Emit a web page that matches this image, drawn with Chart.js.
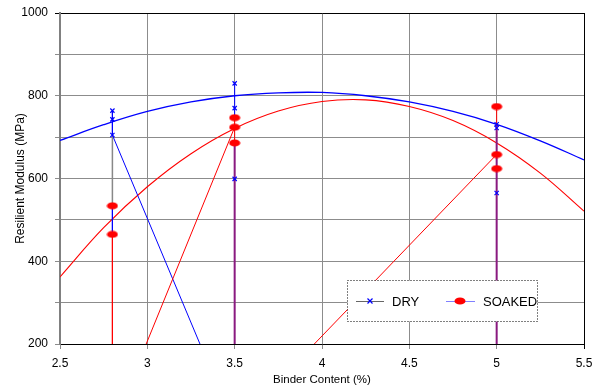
<!DOCTYPE html>
<html>
<head>
<meta charset="utf-8">
<script src="https://cdn.jsdelivr.net/npm/chart.js@4.4.1/dist/chart.umd.min.js"></script>
<style>
  html, body { margin: 0; padding: 0; background: #fff; }
  #wrap { width: 596px; height: 392px; position: relative; }
</style>
</head>
<body>
<div id="wrap"><canvas id="modulusChart"></canvas></div>
<script>
// axis ticks
const xTicks = [2.5, 3, 3.5, 4, 4.5, 5, 5.5];
const yLabels = [200, 400, 600, 800, 1000];

// measured points
const dryX = [2.8, 2.8, 2.8, 3.5, 3.5, 3.5, 5.0, 5.0, 5.0];
const dryY = [764, 743, 705, 830, 770, 599, 731, 722, 565];
const soakedX = [2.8, 2.8, 3.5, 3.5, 3.5, 5.0, 5.0, 5.0];
const soakedY = [534, 465, 747, 724, 686, 774, 658, 624];

// connecting lines (null breaks a segment, 0 drops below the axis)
const blueLineX = [2.8, 2.8, 3.5, null, 3.5, 3.5, null, 2.8, 2.8];
const blueLineY = [764, 705, 0, null, 747, 830, null, 534, 465];
const grayLineX = [2.8, 2.8];
const grayLineY = [705, 534];
const redLineX = [2.8, 2.8, 3.5, null, 3.5, 3.5, null, 3.5, 5.0, null, 5.0, 5.0];
const redLineY = [465, 0, 724, null, 686, 747, null, 0, 658, null, 731, 774];
const mixLineX = [3.5, 3.5, null, 5.0, 5.0];
const mixLineY = [0, 686, null, 0, 731];

// trend curves
const trendX = [2.5, 2.75, 3.0, 3.25, 3.5, 3.75, 4.0, 4.25, 4.5, 4.75, 5.0, 5.25, 5.5];
const dryTrend = [692, 730, 762, 785, 800, 807, 808, 800, 785, 762, 731, 691, 645];
const soakedTrend = [362, 481, 580, 660, 721, 763, 786, 790, 774, 740, 686, 613, 521];

const FONT = '"Liberation Sans", Arial, sans-serif';

function pts(xs, ys) {
  return xs.map((x, i) => ({ x: x, y: ys[i] }));
}

// red oval marker
const dot = document.createElement("canvas");
dot.width = 12; dot.height = 8;
const dctx = dot.getContext("2d");
dctx.fillStyle = "#ff0000";
dctx.beginPath();
dctx.ellipse(6, 4, 5.5, 3.6, 0, 0, Math.PI * 2);
dctx.fill();

function lineSet(data, color, width) {
  return { data: data, showLine: true, borderColor: color, borderWidth: width,
           pointRadius: 0, pointHoverRadius: 0, spanGaps: false, tension: 0 };
}

// legend drawn inside the plot, with a dotted box
const boxLegend = {
  id: "boxLegend",
  afterDraw(chart) {
    const c = chart.ctx;
    const dry = chart.data.datasets.find(d => d.label === "DRY");
    const soaked = chart.data.datasets.find(d => d.label === "SOAKED");
    c.save();
    c.fillStyle = "#fff";
    c.fillRect(347.5, 280.5, 190, 41);
    c.setLineDash([1, 2]);
    c.strokeStyle = "#000";
    c.lineWidth = 1;
    c.strokeRect(347.5, 280.5, 190, 41);
    c.setLineDash([]);

    const midY = 301;
    // DRY
    c.strokeStyle = "#666";
    c.beginPath(); c.moveTo(356, midY + 0.5); c.lineTo(384, midY + 0.5); c.stroke();
    c.strokeStyle = "#0000ff";
    c.lineWidth = 1.2;
    c.beginPath();
    c.moveTo(367.5, midY - 2.5); c.lineTo(372.5, midY + 2.5);
    c.moveTo(372.5, midY - 2.5); c.lineTo(367.5, midY + 2.5);
    c.stroke();
    // SOAKED
    c.strokeStyle = "#8080ff";
    c.lineWidth = 1;
    c.beginPath(); c.moveTo(446, midY + 0.5); c.lineTo(475, midY + 0.5); c.stroke();
    c.drawImage(dot, 454, midY - 4);

    c.fillStyle = "#000";
    c.font = "13px " + FONT;
    c.textBaseline = "middle";
    c.fillText(dry.label, 392, midY + 1);
    c.fillText(soaked.label, 483, midY + 1);
    c.restore();
  }
};

const ctx = document.getElementById("modulusChart").getContext("2d");
const chart = new Chart(ctx, {
  type: "scatter",
  data: {
    datasets: [
      { label: "SOAKED", data: pts(soakedX, soakedY), pointStyle: dot, pointRadius: 5,
        pointHoverRadius: 5, showLine: false },
      { label: "DRY", data: pts(dryX, dryY), pointStyle: "crossRot", pointRadius: 3,
        pointBorderColor: "#0000ff", pointBorderWidth: 1.2, showLine: false },
      lineSet(pts(mixLineX, mixLineY), "#8a1a80", 2),
      lineSet(pts(redLineX, redLineY), "#ff0000", 1),
      lineSet(pts(blueLineX, blueLineY), "#0000ff", 1),
      lineSet(pts(grayLineX, grayLineY), "#888888", 1.5),
      Object.assign(lineSet(pts(trendX, dryTrend), "#0000ff", 1.3), { tension: 0.4 }),
      Object.assign(lineSet(pts(trendX, soakedTrend), "#ff0000", 1.1), { tension: 0.4 })
    ]
  },
  options: {
    responsive: true,
    maintainAspectRatio: false,
    animation: false,
    events: [],
    layout: { padding: { top: 13, right: 12, left: 0, bottom: 0 } },
    plugins: { legend: { display: false }, tooltip: { enabled: false } },
    scales: {
      x: {
        type: "linear",
        min: xTicks[0],
        max: xTicks[xTicks.length - 1],
        afterFit(scale) { scale.height = 48; scale.paddingLeft = 0; scale.paddingRight = 0; },
        afterBuildTicks(scale) { scale.ticks = xTicks.map(v => ({ value: v })); },
        ticks: { color: "#000", padding: 7, font: { family: FONT, size: 12 }, maxRotation: 0,
                 callback: v => String(v) },
        grid: {
          color: c => (c.tick && c.tick.value === 5.5 ? "#000" : "#8c8c8c"),
          lineWidth: 1,
          tickLength: 5
        },
        border: { color: "#000", width: 1 },
        title: { display: true, text: "Binder Content (%)", color: "#000",
                 font: { family: FONT, size: 11.5 }, padding: { top: 0, bottom: 5 } }
      },
      y: {
        min: yLabels[0],
        max: yLabels[yLabels.length - 1],
        afterFit(scale) { scale.width = 60; scale.paddingTop = 0; scale.paddingBottom = 0; },
        ticks: {
          stepSize: 100,
          color: "#000",
          padding: 7,
          font: { family: FONT, size: 12 },
          callback: v => (yLabels.includes(v) ? String(v) : "")
        },
        grid: {
          color: c => (c.tick && c.tick.value === 1000 ? "#000" : "#8c8c8c"),
          lineWidth: 1,
          tickLength: 5
        },
        border: { color: "#808080", width: 2 },
        title: { display: true, text: "Resilient Modulus (MPa)", color: "#000",
                 font: { family: FONT, size: 12 }, padding: { top: 13, bottom: 0 } }
      }
    }
  },
  plugins: [boxLegend]
});
</script>
</body>
</html>
